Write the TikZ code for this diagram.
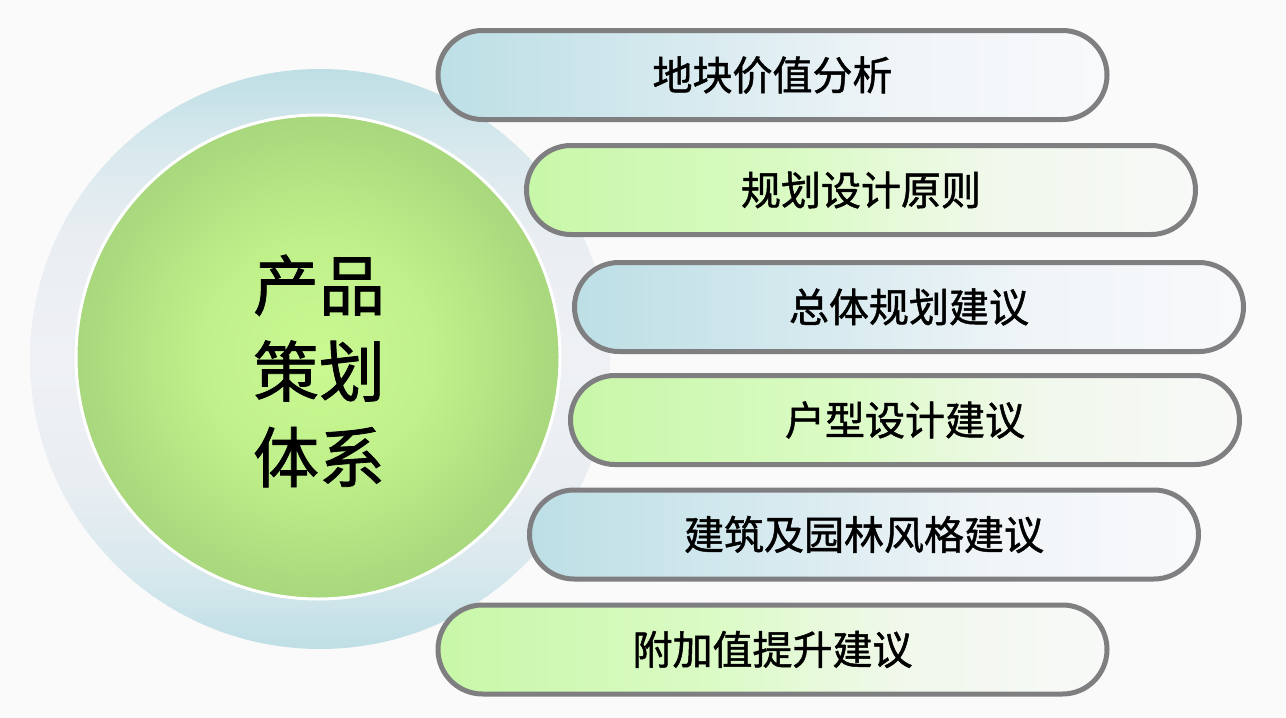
\documentclass[tikz,border=0pt]{standalone}
\usepackage{fontspec}
\setmainfont{Noto Sans CJK SC}[FakeBold=1.2]
\definecolor{bg}{HTML}{FAFAFB}
\definecolor{pillgray}{HTML}{7F7F81}
\definecolor{pbA}{HTML}{BCDFE5}
\definecolor{pbB}{HTML}{D9EBF0}
\definecolor{pbC}{HTML}{F1F5F8}
\definecolor{pbD}{HTML}{F8F9FB}
\definecolor{pgA}{HTML}{C8F7A8}
\definecolor{pgB}{HTML}{DAFBC4}
\definecolor{pgC}{HTML}{F1F8EC}
\definecolor{pgD}{HTML}{F8F9F8}
\definecolor{rgA}{HTML}{BEDFE5}
\definecolor{rgB}{HTML}{D9E9EE}
\definecolor{rgC}{HTML}{EAEEF2}
\definecolor{rgD}{HTML}{EEF0F4}
\definecolor{cgA}{HTML}{CAF992}
\definecolor{cgB}{HTML}{C0F08A}
\definecolor{cgC}{HTML}{A8D77D}
\pgfdeclarehorizontalshading{pbshade}{100bp}{color(0bp)=(pbA); color(25bp)=(pbA); color(45bp)=(pbB); color(60bp)=(pbC); color(75bp)=(pbD); color(100bp)=(pbD)}
\pgfdeclarehorizontalshading{pgshade}{100bp}{color(0bp)=(pgA); color(25bp)=(pgA); color(45bp)=(pgB); color(60bp)=(pgC); color(75bp)=(pgD); color(100bp)=(pgD)}
\pgfdeclareverticalshading{ringshade}{100bp}{color(0bp)=(rgA); color(25bp)=(rgA); color(32bp)=(rgB); color(40bp)=(rgC); color(50bp)=(rgD); color(60bp)=(rgC); color(68bp)=(rgB); color(75bp)=(rgA); color(100bp)=(rgA)}
\pgfdeclareradialshading{coreshade}{\pgfpoint{0bp}{0bp}}{color(0bp)=(cgA); color(12bp)=(cgB); color(25bp)=(cgC); color(50bp)=(cgC)}
\begin{document}
\begin{tikzpicture}[x=1pt,y=-1pt,
  pill/.style={draw=pillgray, line width=5pt, rounded corners=44.5pt,
    minimum width=669pt, minimum height=89pt, inner sep=0pt,
    font=\fontsize{40}{48}\selectfont, text=black},
  bluepill/.style={pill, shading=pbshade},
  greenpill/.style={pill, shading=pgshade},
  ringstyle/.style={circle, minimum size=580pt, inner sep=0pt, shading=ringshade},
  corestyle/.style={circle, minimum size=484pt, inner sep=0pt, shading=coreshade,
    draw=white, line width=3pt},
  coretext/.style={align=center, inner sep=0pt, text=black,
    font=\fontsize{66}{86}\selectfont}]
\useasboundingbox (0,0) rectangle (1286,718);
\fill[bg] (0,0) rectangle (1286,718);
\node[ringstyle] (ring) at (320,359) {};
\node[corestyle] (core) at (318,357) {};
\node[coretext] (coretxt) at (319,371) {产品\\策划\\体系};
\node[bluepill]  (p1) at (772.5,75)  {地块价值分析};
\node[greenpill] (p2) at (861,190)   {规划设计原则};
\node[bluepill]  (p3) at (909,307)   {总体规划建议};
\node[greenpill] (p4) at (905,420)   {户型设计建议};
\node[bluepill]  (p5) at (864,534.5) {建筑及园林风格建议};
\node[greenpill] (p6) at (772.5,649.5) {附加值提升建议};
\end{tikzpicture}
\end{document}
